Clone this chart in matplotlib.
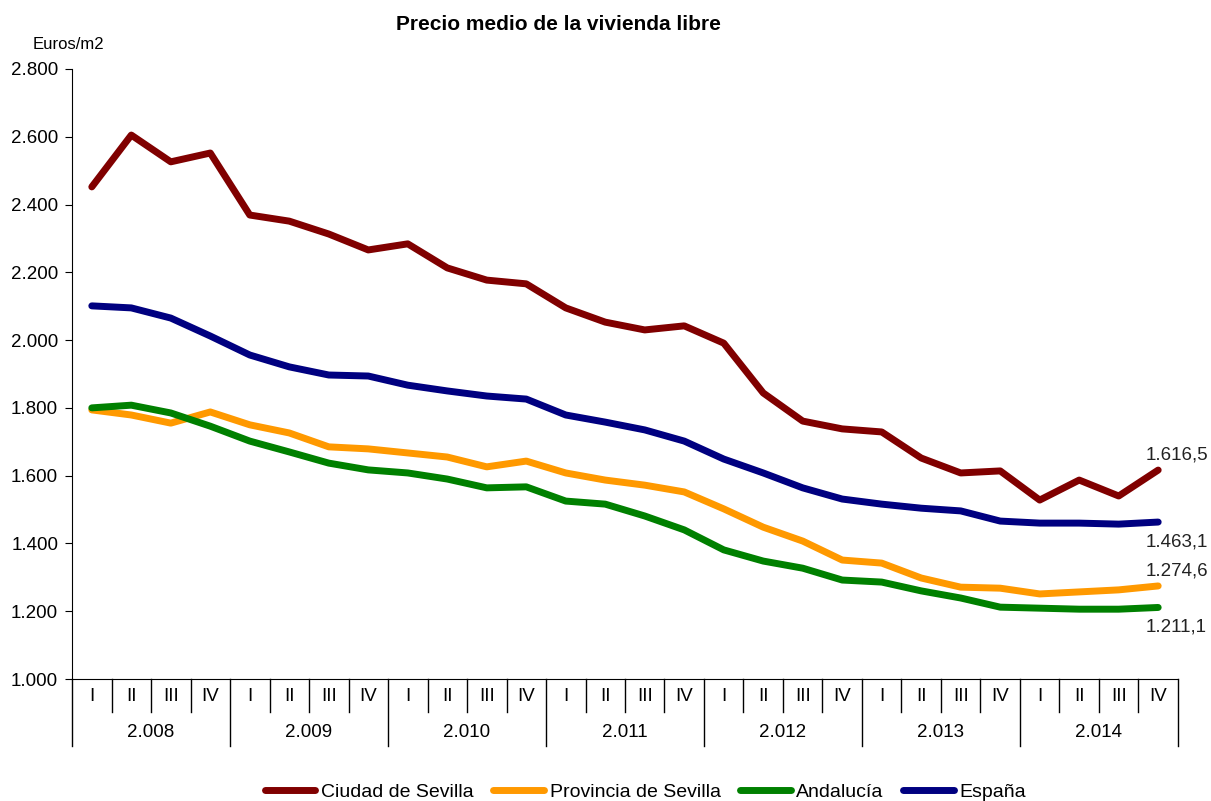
import numpy as np
import matplotlib
matplotlib.use('Agg')
import matplotlib.pyplot as plt

plt.rcParams.update({'font.family': ['Liberation Sans', 'DejaVu Sans'], 'font.size': 13.5})

YEARS = ['2.008', '2.009', '2.010', '2.011', '2.012', '2.013', '2.014']
QUARTERS = ['I', 'II', 'III', 'IV']

ciudad = [2452, 2605, 2526, 2552, 2369, 2351, 2313, 2266, 2284, 2213, 2177, 2166,
          2095, 2053, 2030, 2042, 1991, 1844, 1761, 1738, 1729, 1652, 1608, 1614,
          1528, 1587, 1540, 1616.5]
provincia = [1794, 1779, 1755, 1788, 1750, 1726, 1685, 1679, 1667, 1655, 1626, 1643,
             1608, 1587, 1572, 1552, 1502, 1448, 1407, 1351, 1342, 1298, 1271, 1268,
             1251, 1257, 1263, 1274.6]
andalucia = [1800, 1808, 1785, 1746, 1702, 1670, 1637, 1617, 1608, 1590, 1564, 1567,
             1525, 1516, 1481, 1440, 1381, 1348, 1327, 1292, 1286, 1260, 1239, 1212,
             1209, 1206, 1206, 1211.1]
espana = [2101, 2095, 2065, 2012, 1956, 1921, 1897, 1894, 1867, 1850, 1835, 1826,
          1779, 1758, 1735, 1702, 1649, 1608, 1564, 1531, 1516, 1504, 1496, 1466,
          1460, 1460, 1457, 1463.1]

# name, values, colour, label offset (points)
SERIES = [('Ciudad de Sevilla', ciudad, '#800000', 11),
          ('Provincia de Sevilla', provincia, '#FF9900', 11),
          ('Andalucía', andalucia, '#008000', -14),
          ('España', espana, '#000080', -14)]

def fmt(v):
    return f'{v:,.1f}'.replace(',', 'X').replace('.', ',').replace('X', '.')

fig = plt.figure(figsize=(12.11, 8.01), dpi=100)
ax = fig.add_axes([0.0595, 0.1523, 0.9132, 0.7616])
x = np.arange(len(ciudad))
for name, vals, col, dy in SERIES:
    ax.plot(x, vals, color=col, lw=5, label=name, solid_capstyle='round', solid_joinstyle='round')
    ax.annotate(fmt(vals[-1]), (x[-1], vals[-1]), xytext=(-9, dy), textcoords='offset points',
                ha='left', va='center', fontsize=13.5, color='#222222')

ax.set_xlim(-0.5, len(x) - 0.5)
ax.set_ylim(1000, 2800)
yt = np.arange(1000, 2801, 200)
ax.set_yticks(yt)
ax.set_yticklabels([f'{int(v/1000)}.{int(v%1000):03d}' for v in yt])
ax.tick_params(axis='y', length=5, direction='out', pad=5, labelsize=13.5)
ax.set_xticks([])
for s in ('top', 'right'):
    ax.spines[s].set_visible(False)

# category table under the axis
tr = ax.get_xaxis_transform()
for i in range(len(x) + 1):
    xb = i - 0.5
    ylow = -0.110 if i % 4 == 0 else -0.054
    ax.plot([xb, xb], [0, ylow], transform=tr, color='black', lw=1, clip_on=False)
for i in range(len(x)):
    ax.text(i, -0.028, QUARTERS[i % 4], transform=tr, ha='center', va='center', fontsize=13.5)
for j, yr in enumerate(YEARS):
    ax.text(j * 4 + 1.5, -0.088, yr, transform=tr, ha='center', va='center', fontsize=13.5)

fig.text(0.461, 0.970, 'Precio medio de la vivienda libre', ha='center', va='center',
         fontsize=15, fontweight='bold')
fig.text(0.027, 0.944, 'Euros/m2', ha='left', va='center', fontsize=12)

fig.legend(loc='lower center', bbox_to_anchor=(0.533, -0.022), ncol=4, frameon=False,
           fontsize=14, handlelength=2.6, handletextpad=0.3, columnspacing=1.0)

fig.savefig('out.png', dpi=100)
